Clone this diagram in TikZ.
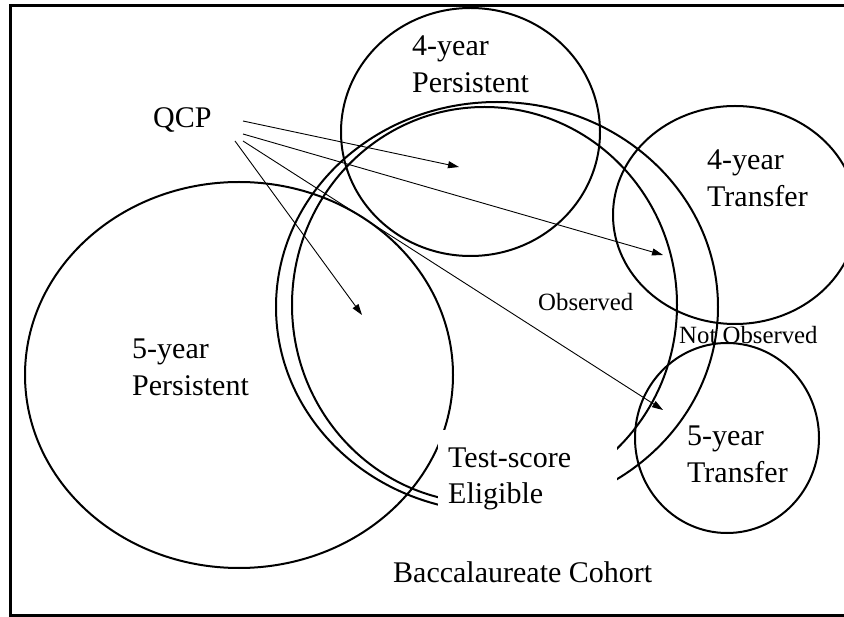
\documentclass[tikz,border=0pt]{standalone}
\usepackage{fontspec}
\setmainfont{Liberation Serif}
\usetikzlibrary{arrows.meta, positioning}

\begin{document}
\begin{tikzpicture}[
        x=1pt, y=-1pt,
        ring/.style={draw=black, line width=2pt},
        lbl/.style={inner sep=0pt, align=left, anchor=base west, font=\fontsize{30}{37}\selectfont},
        small/.style={inner sep=0pt, anchor=base west, font=\fontsize{24.8}{30}\selectfont},
        arr/.style={-{Triangle[length=11pt, width=7pt]}, line width=0.9pt}
    ]
        \useasboundingbox (0,0) rectangle (844,617);
        \clip (0,0) rectangle (844,617);

        % Cohort frame
        \draw[line width=3pt] (10.5,5.5) rectangle (880,615.5);

        % Circles
        \draw[ring] (470.5,132) ellipse [x radius=129.5pt, y radius=124pt];
        \draw[ring] (239,375) ellipse [x radius=214pt, y radius=193pt];
        \draw[ring] (484.5,305) ellipse [x radius=192.5pt, y radius=198pt];
        \draw[ring] (497,307) ellipse [x radius=221pt, y radius=205pt];
        \draw[ring] (735,215) ellipse [x radius=122pt, y radius=109pt];
        \draw[ring] (727,438) ellipse [x radius=92pt, y radius=95pt];

        % Labels (base = last line)
        \node[lbl] (pers4) at (412,93) {4-year\\Persistent};
        \node[lbl] (pers5) at (132,396) {5-year\\Persistent};
        \node[lbl] (trans4) at (707,207) {4-year\\Transfer};
        \node[lbl] (trans5) at (687,483) {5-year\\Transfer};
        \node[lbl] (qcp) at (153,128) {QCP};
        \node[lbl] (cohort) at (393,582) {Baccalaureate Cohort};
        \node[small] (obs) at (538,310.5) {Observed};
        \node[small] (notobs) at (679,344) {Not Observed};
        \node[lbl, anchor=north west, fill=white, text width=159pt, inner xsep=10pt, inner ysep=18pt,
              font=\fontsize{30}{36}\selectfont] (tse) at (438,430) {Test-score\\Eligible};

        % QCP arrows
        \coordinate (q1) at (243,121);
        \coordinate (q2) at (243,134);
        \coordinate (q3) at (235,141);
        \coordinate (q4) at (243,141);
        \coordinate (t1) at (459,167);
        \coordinate (t2) at (663,255);
        \coordinate (t3) at (362,315);
        \coordinate (t4) at (663,410);
        \draw[arr] (q1) -- (t1);
        \draw[arr] (q2) -- (t2);
        \draw[arr] (q3) -- (t3);
        \draw[arr] (q4) -- (t4);
    \end{tikzpicture}
\end{document}
